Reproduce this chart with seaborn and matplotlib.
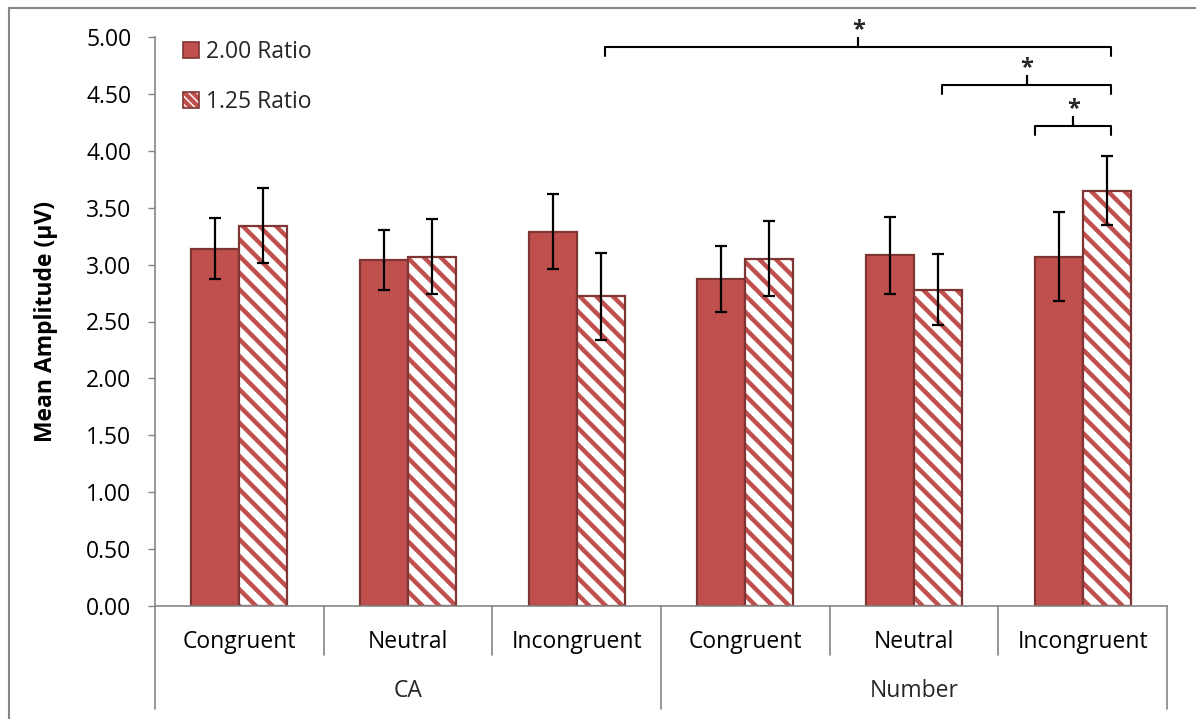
import numpy as np
import pandas as pd
import matplotlib
matplotlib.use("Agg")
import matplotlib.pyplot as plt
import matplotlib.transforms as mtransforms
from matplotlib.patches import Rectangle
from matplotlib.colors import to_rgba
import seaborn as sns

# ---------------- data ----------------
groups = ["CA", "Number"]
conditions = ["Congruent", "Neutral", "Incongruent"]
ratios = ["2.00 Ratio", "1.25 Ratio"]
ratio200_mean = [3.14, 3.04, 3.29, 2.87, 3.08, 3.07]
ratio200_err = [0.27, 0.26, 0.33, 0.29, 0.34, 0.39]
ratio125_mean = [3.34, 3.07, 2.72, 3.05, 2.78, 3.65]
ratio125_err = [0.33, 0.33, 0.38, 0.33, 0.31, 0.30]
yticks = [0.0, 0.5, 1.0, 1.5, 2.0, 2.5, 3.0, 3.5, 4.0, 4.5, 5.0]
# significance brackets (from, to, height)
brk_from = [2.17, 4.165, 4.72]
brk_to = [5.17, 5.17, 5.17]
brk_y = [4.91, 4.58, 4.22]

keys = [f"{g}|{c}" for g in groups for c in conditions]
df = pd.DataFrame({
    "key": keys * 2,
    "ratio": [ratios[0]] * 6 + [ratios[1]] * 6,
    "value": ratio200_mean + ratio125_mean,
})

# ---------------- style ----------------
sns.set_theme(style="white")
plt.rcParams["font.family"] = ["Open Sans", "DejaVu Sans"]
plt.rcParams["hatch.linewidth"] = 3.2
FS = 16.5

RED = "#C0504D"
EDGE = "#7F3533"
AXC = "#868686"

fig = plt.figure(figsize=(11.96, 7.19), dpi=100)
ax = fig.add_axes([155 / 1196, 1 - 606 / 719, (1167 - 155) / 1196, (606 - 37) / 719])

sns.barplot(data=df, x="key", y="value", hue="ratio", order=keys, hue_order=ratios,
            palette=[RED, "white"], width=0.57, errorbar=None, ax=ax,
            edgecolor=EDGE, linewidth=1.6, saturation=1)

# hatch second series
for p in ax.containers[1]:
    p.set_hatch("\\\\")
    p.set_edgecolor(RED)
    p.set_linewidth(0)
    outline = Rectangle(p.get_xy(), p.get_width(), p.get_height(), fill=False,
                        edgecolor=EDGE, linewidth=1.6, zorder=p.get_zorder() + 0.1)
    ax.add_patch(outline)

# error bars
for cont, errs, vals in [(ax.containers[0], ratio200_err, ratio200_mean),
                         (ax.containers[1], ratio125_err, ratio125_mean)]:
    xs = [p.get_x() + p.get_width() / 2 for p in cont]
    ax.errorbar(xs, vals, yerr=errs, fmt="none", ecolor="black", elinewidth=1.6,
                capsize=4.5, capthick=1.6, zorder=5)

ax.set_ylim(0, 5)
ax.set_xlim(-0.5, 5.5)
ax.set_yticks(yticks)
ax.set_yticklabels([f"{v:.2f}" for v in yticks], fontsize=FS, color="black")
ax.tick_params(axis="y", which="both", left=True, length=5, width=1, color=AXC, pad=12)
ax.set_xticks(range(6))
ax.set_xticklabels([c for g in groups for c in conditions], fontsize=FS, color="black")
ax.tick_params(axis="x", bottom=False, pad=11)
ax.set_xlabel("")
ax.set_ylabel("Mean Amplitude (µV)", fontsize=FS, fontweight="bold", labelpad=20,
              color="black")

for s in ["top", "right"]:
    ax.spines[s].set_visible(False)
for s in ["left", "bottom"]:
    ax.spines[s].set_color(AXC)
    ax.spines[s].set_linewidth(1.2)

# multi-level category dividers
tr = mtransforms.blended_transform_factory(ax.transData, ax.transAxes)
for b in np.arange(-0.5, 6.0, 1.0):
    low = -0.181 if b in (-0.5, 2.5, 5.5) else -0.086
    ax.plot([b, b], [0, low], transform=tr, color=AXC, lw=1.2, clip_on=False)
for i, g in enumerate(groups):
    ax.text(1 + 3 * i, -0.15, g, transform=tr, ha="center", va="center", fontsize=FS)

# legend
leg = ax.legend(loc="upper left", bbox_to_anchor=(0.028, 0.995), frameon=False,
                fontsize=FS, handlelength=0.7, handleheight=0.7,
                handletextpad=0.3, labelspacing=1.15, borderaxespad=0, borderpad=0)
for h in leg.legend_handles:
    h.set_linewidth(1.2)
    h.set_edgecolor(EDGE)
leg.legend_handles[1].set_hatch("\\\\\\\\")
leg.legend_handles[1]._hatch_color = to_rgba(RED)

# significance brackets
d = 0.08
for x0, x1, y in zip(brk_from, brk_to, brk_y):
    xm = (x0 + x1) / 2
    ax.plot([x0, x0, xm, xm, xm, x1, x1], [y - d, y, y, y + d, y, y, y - d],
            color="black", lw=1.5, clip_on=False, solid_joinstyle="round")
    ax.text(xm, y + 0.15, "*", ha="center", va="center", fontsize=17,
            fontweight="bold", clip_on=False)

# chart border (Excel chart area)
fig.add_artist(Rectangle((9 / 1196, -0.1), 1.2, 1.1 - 8 / 719, transform=fig.transFigure,
                         fill=False, edgecolor=AXC, lw=1.5))

fig.savefig("out.png", dpi=100)
